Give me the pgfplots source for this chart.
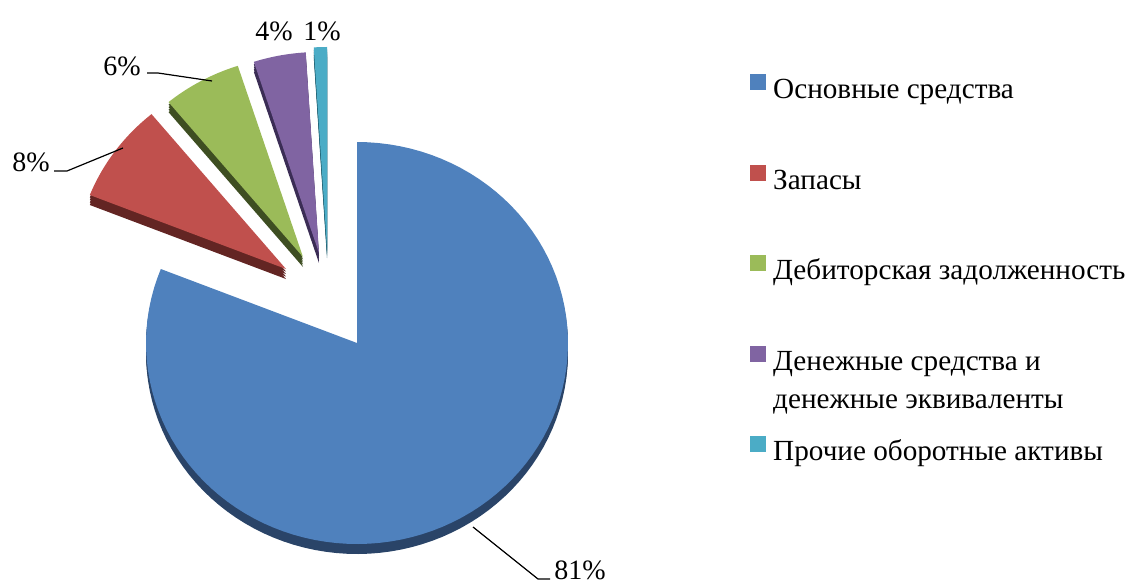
\documentclass[border=0pt]{standalone}
\usepackage{pgfplots}
\pgfplotsset{compat=1.18}
\usepackage{fontspec}
\setmainfont{Liberation Serif}
\definecolor{cA}{HTML}{4F81BD}\definecolor{dA}{HTML}{2A4468}
\definecolor{cB}{HTML}{C0504D}\definecolor{dB}{HTML}{632523}
\definecolor{cC}{HTML}{9BBB59}\definecolor{dC}{HTML}{3E4E22}
\definecolor{cD}{HTML}{8064A2}\definecolor{dD}{HTML}{3B2D55}
\definecolor{cE}{HTML}{4BACC6}\definecolor{dE}{HTML}{1F5F70}
% one layer of a slice: #1 = downward shift (px), #2 = colour
\newcommand{\slicelayer}[2]{%
  \pgfmathsetmacro\cyy{\cy-#1}%
  \edef\doit{\noexpand\addplot[forget plot, fill=#2, draw=none, domain=\aB:\aA, samples=100]
    ({\cx+211*cos(x)},{\cyy+201*sin(x)}) -- (axis cs:\cx,\cyy) -- cycle;}%
  \doit}
% slice: #1 cumulative start (%), #2 value (%), #3 dx, #4 dy (explosion, px), #5 top colour, #6 dark colour
\newcommand{\pieslice}[6]{%
  \pgfmathsetmacro\aA{90-3.6*(#1)}%
  \pgfmathsetmacro\aB{90-3.6*((#1)+(#2))}%
  \pgfmathsetmacro\cx{357+(#3)}%
  \pgfmathsetmacro\cy{240+(#4)}%
  \slicelayer{10}{#6}\slicelayer{7.5}{#6}\slicelayer{5}{#6}\slicelayer{2.5}{#6}\slicelayer{0}{#5}}
\pgfplotsset{myleg/.style={legend image code/.code={\fill[#1] (0pt,1pt) rectangle (7.5pt,8.5pt);}}}
\begin{document}
\begin{tikzpicture}
\begin{axis}[
  width=564pt, height=291.5pt, scale only axis,
  xmin=0, xmax=1128, ymin=0, ymax=583,
  axis lines=none, clip=false,
  font=\fontsize{14}{16.8}\selectfont,
  legend cell align=left,
  legend style={draw=none, fill=none, inner sep=0pt,
    at={(axis cs:750,509)}, anchor=north west,
    nodes={inner sep=0pt, text height=10pt, text depth=3pt},
    row sep=30pt,
    font=\fontsize{14.6}{19}\selectfont,
    /tikz/every odd column/.append style={column sep=3.5pt}},
]
% values: 81, 8, 6, 4, 1 (%)
\pieslice{0}{81}{0}{0}{cA}{dA}
\pieslice{81}{8}{-71}{74}{cB}{dB}
\pieslice{89}{6}{-54}{86}{cC}{dC}
\pieslice{95}{4}{-38}{90}{cD}{dD}
\pieslice{99}{1}{-30}{95}{cE}{dE}

\addlegendimage{myleg=cA}\addlegendentry{Основные средства}
\addlegendimage{myleg=cB}\addlegendentry{Запасы}
\addlegendimage{myleg=cC}\addlegendentry{Дебиторская задолженность}
\addlegendimage{myleg=cD}\addlegendentry{\smash{\parbox[t]{6cm}{Денежные средства и\\денежные эквиваленты}}}
\addlegendimage{myleg=cE}\addlegendentry{Прочие оборотные активы}

% leader lines and labels
\draw[black, line width=0.6pt] (axis cs:473,56) -- (axis cs:538,4) -- (axis cs:550,4);
\node[anchor=base west, inner sep=0pt] at (axis cs:554,4) {81\%};
\draw[black, line width=0.6pt] (axis cs:54,412) -- (axis cs:67,412) -- (axis cs:123,435);
\node[anchor=base west, inner sep=0pt] at (axis cs:12,412) {8\%};
\draw[black, line width=0.6pt] (axis cs:147,510) -- (axis cs:158,510) -- (axis cs:212,502);
\node[anchor=base west, inner sep=0pt] at (axis cs:103,507) {6\%};
\node[anchor=base west, inner sep=0pt] at (axis cs:255,542) {4\%};
\node[anchor=base west, inner sep=0pt] at (axis cs:303,542) {1\%};
\end{axis}
\pgfresetboundingbox
\path (current axis.south west) rectangle (current axis.north east);
\end{tikzpicture}
\end{document}
